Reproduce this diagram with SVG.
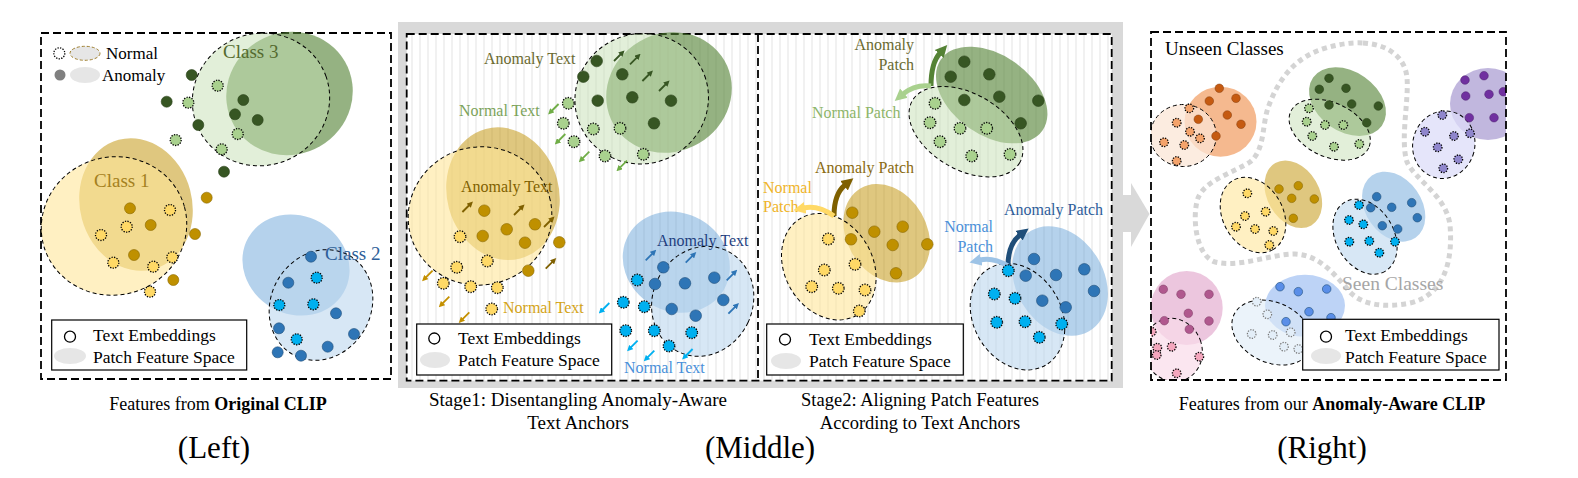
<svg xmlns="http://www.w3.org/2000/svg" width="1578" height="478" viewBox="0 0 1578 478">
<defs>
<style>
.t{font-family:"Liberation Serif","Times New Roman",serif}
.bx{fill:none;stroke:#000;stroke-width:1.8;stroke-dasharray:8 4}
.dn{stroke:#000;stroke-width:1;stroke-dasharray:4 3}
.dt{stroke:#000;stroke-width:1.3;stroke-dasharray:1.3 1.3}
.lg{fill:#fff;stroke:#000;stroke-width:1.2}
.le{fill:#e6e6e6}
.ga{fill:#548235;opacity:.62}.gn{fill:#c5e0b4;fill-opacity:.5}
.ya{fill:#bf9000;opacity:.5}.yn{fill:#ffe699;fill-opacity:.6}
.ba{fill:#5b9bd5;opacity:.45}.bn{fill:#bdd7ee;fill-opacity:.6}
.gs{fill:#375623;stroke:#2a421a;stroke-width:.6}.gd{fill:#a9d18e}
.ys{fill:#bf9000;stroke:#8a6800;stroke-width:.6}.yd{fill:#ffd966}
.bs{fill:#2e75b6;stroke:#1f4e79;stroke-width:.6}.bd{fill:#00b0f0}
.os{fill:#c55a11;stroke:#843c0c;stroke-width:.5}.od{fill:#f4a36b}
.ps{fill:#7030a0;stroke:#4b1f6b;stroke-width:.5}.pd{fill:#8f86cc}
.ks{fill:#b0588e;stroke:#7a3b62;stroke-width:.5}.kd{fill:#f4a6bd}
.ls{fill:#5a8ee8;stroke:#1f4e79;stroke-width:.6}.ld{fill:#e3eef8}
.ar{fill:none;stroke-width:1.8}
.a1{stroke:#375623;marker-end:url(#m1)}.a2{stroke:#70ad47;marker-end:url(#m2)}
.a3{stroke:#7f6000;marker-end:url(#m3)}.a4{stroke:#c49000;marker-end:url(#m4)}
.a5{stroke:#2e75b6;marker-end:url(#m5)}.a6{stroke:#00b0f0;marker-end:url(#m6)}
.ca{fill:none;stroke-width:5}
</style>
<pattern id="stripe" width="8" height="10" patternUnits="userSpaceOnUse"><rect width="8" height="10" fill="#fff"/><line x1="4" y1="0" x2="4" y2="10" stroke="#e4e4e4" stroke-width="1"/></pattern>
<marker id="m1" viewBox="0 0 6 6" refX="1" refY="3" markerWidth="6" markerHeight="6" markerUnits="userSpaceOnUse" orient="auto"><path d="M0,0L6,3L0,6z" fill="#375623"/></marker>
<marker id="m2" viewBox="0 0 6 6" refX="1" refY="3" markerWidth="6" markerHeight="6" markerUnits="userSpaceOnUse" orient="auto"><path d="M0,0L6,3L0,6z" fill="#70ad47"/></marker>
<marker id="m3" viewBox="0 0 6 6" refX="1" refY="3" markerWidth="6" markerHeight="6" markerUnits="userSpaceOnUse" orient="auto"><path d="M0,0L6,3L0,6z" fill="#7f6000"/></marker>
<marker id="m4" viewBox="0 0 6 6" refX="1" refY="3" markerWidth="6" markerHeight="6" markerUnits="userSpaceOnUse" orient="auto"><path d="M0,0L6,3L0,6z" fill="#c49000"/></marker>
<marker id="m5" viewBox="0 0 6 6" refX="1" refY="3" markerWidth="6" markerHeight="6" markerUnits="userSpaceOnUse" orient="auto"><path d="M0,0L6,3L0,6z" fill="#2e75b6"/></marker>
<marker id="m6" viewBox="0 0 6 6" refX="1" refY="3" markerWidth="6" markerHeight="6" markerUnits="userSpaceOnUse" orient="auto"><path d="M0,0L6,3L0,6z" fill="#00b0f0"/></marker>
<marker id="c1" viewBox="0 0 10 10" refX="1" refY="5" markerWidth="12" markerHeight="13" markerUnits="userSpaceOnUse" orient="auto"><path d="M0,0L10,5L0,10z" fill="#548235"/></marker>
<marker id="c2" viewBox="0 0 10 10" refX="1" refY="5" markerWidth="12" markerHeight="13" markerUnits="userSpaceOnUse" orient="auto"><path d="M0,0L10,5L0,10z" fill="#a9d18e"/></marker>
<marker id="c3" viewBox="0 0 10 10" refX="1" refY="5" markerWidth="12" markerHeight="13" markerUnits="userSpaceOnUse" orient="auto"><path d="M0,0L10,5L0,10z" fill="#7f6000"/></marker>
<marker id="c4" viewBox="0 0 10 10" refX="1" refY="5" markerWidth="12" markerHeight="13" markerUnits="userSpaceOnUse" orient="auto"><path d="M0,0L10,5L0,10z" fill="#ffd966"/></marker>
<marker id="c5" viewBox="0 0 10 10" refX="1" refY="5" markerWidth="12" markerHeight="13" markerUnits="userSpaceOnUse" orient="auto"><path d="M0,0L10,5L0,10z" fill="#1f4e79"/></marker>
<marker id="c6" viewBox="0 0 10 10" refX="1" refY="5" markerWidth="12" markerHeight="13" markerUnits="userSpaceOnUse" orient="auto"><path d="M0,0L10,5L0,10z" fill="#9dc3e6"/></marker>
<clipPath id="rclip"><rect x="1151" y="32" width="355" height="348"/></clipPath>
</defs>
<rect width="1578" height="478" fill="#fff"/>

<!-- LEFT PANEL -->
<g id="left-panel">
<rect class="bx" x="41" y="33" width="350" height="346"/>
<g id="left-legend-top">
<circle class="dt" cx="59.3" cy="53.3" r="5.5" fill="#fff"/>
<ellipse cx="85" cy="53.3" rx="15" ry="7" fill="#e6e6e6" stroke="#a08030" stroke-width="1" stroke-dasharray="3 2"/>
<text class="t" x="106" y="59" font-size="17">Normal</text>
<circle cx="60" cy="75" r="5.5" fill="#808080"/>
<ellipse class="le" cx="85" cy="75" rx="15" ry="8"/>
<text class="t" x="102" y="81" font-size="17">Anomaly</text>
</g>
<g id="left-class3">
<ellipse class="ga" cx="289.5" cy="93.5" rx="64" ry="61" transform="rotate(-30 289.5 93.5)"/>
<ellipse class="gn dn" cx="261" cy="99.5" rx="69" ry="66" transform="rotate(-20 261 99.5)"/>
<text class="t" x="223" y="58" font-size="19" fill="#556b2f">Class 3</text>
<g class="gs"><circle cx="191.7" cy="75" r="5.5"/><circle cx="166.7" cy="101.7" r="5.5"/><circle cx="243.3" cy="100" r="5.5"/><circle cx="235" cy="114.3" r="5.5"/><circle cx="257.7" cy="120" r="5.5"/><circle cx="198.3" cy="125" r="5.5"/><circle cx="224" cy="171.7" r="5.5"/></g>
<g class="gd dt"><circle cx="217.7" cy="85.7" r="5.5"/><circle cx="188.3" cy="102.7" r="5.5"/><circle cx="237.7" cy="134" r="5.5"/><circle cx="175.7" cy="140" r="5.5"/><circle cx="221.7" cy="149.3" r="5.5"/></g>
</g>
<g id="left-class1">
<ellipse class="ya" cx="136" cy="204.5" rx="56" ry="67" transform="rotate(-15 136 204.5)"/>
<ellipse class="yn dn" cx="114" cy="226" rx="73" ry="69" transform="rotate(-15 114 226)"/>
<text class="t" x="94" y="187" font-size="19" fill="#a5811e">Class 1</text>
<g class="ys"><circle cx="206.7" cy="197.7" r="5.5"/><circle cx="130" cy="208.3" r="5.5"/><circle cx="150.7" cy="225" r="5.5"/><circle cx="195" cy="234" r="5.5"/><circle cx="134" cy="255" r="5.5"/><circle cx="173.3" cy="280" r="5.5"/></g>
<g class="yd dt"><circle cx="170" cy="210" r="5.5"/><circle cx="126.7" cy="226.7" r="5.5"/><circle cx="101" cy="235" r="5.5"/><circle cx="172.3" cy="257.3" r="5.5"/><circle cx="113.3" cy="262.7" r="5.5"/><circle cx="153.3" cy="266.7" r="5.5"/><circle cx="150" cy="291.7" r="5.5"/></g>
</g>
<g id="left-class2">
<ellipse class="ba" cx="296" cy="265" rx="55" ry="49" transform="rotate(30 296 265)"/>
<ellipse class="bn dn" cx="321" cy="305" rx="50" ry="57" transform="rotate(30 321 305)"/>
<text class="t" x="325" y="260" font-size="19" fill="#2e6099">Class 2</text>
<g class="bs"><circle cx="311" cy="256.7" r="5.5"/><circle cx="288.3" cy="282.7" r="5.5"/><circle cx="336" cy="313.3" r="5.5"/><circle cx="279" cy="328.3" r="5.5"/><circle cx="354" cy="334" r="5.5"/><circle cx="327.7" cy="346.7" r="5.5"/><circle cx="277.7" cy="352.3" r="5.5"/><circle cx="301" cy="355.7" r="5.5"/></g>
<g class="bd dt"><circle cx="316.7" cy="277.7" r="5.5"/><circle cx="279.3" cy="305" r="5.5"/><circle cx="313.3" cy="304.3" r="5.5"/><circle cx="296.7" cy="339.3" r="5.5"/></g>
</g>
<g id="left-legend">
<rect class="lg" x="51.7" y="320" width="195" height="50"/>
<circle cx="70" cy="336.7" r="5.5" fill="#fff" stroke="#000" stroke-width="1.3"/>
<text class="t" x="93" y="341" font-size="17.5">Text Embeddings</text>
<ellipse class="le" cx="70" cy="356" rx="16" ry="8"/>
<text class="t" x="93" y="363" font-size="17.5">Patch Feature Space</text>
</g>
</g>

<!-- MIDDLE PANEL -->
<g id="middle-panel">
<rect x="398" y="22" width="725" height="366" fill="#d9d9d9"/>
<rect x="406.7" y="34" width="705" height="346.7" fill="url(#stripe)"/>
<rect class="bx" x="406.7" y="34" width="705" height="346.7"/>
<line x1="758" y1="34" x2="758" y2="380.7" stroke="#000" stroke-width="1.8" stroke-dasharray="8 4"/>
</g>

<g id="stage1">
<g id="s1-green">
<ellipse class="ga" cx="669" cy="92.5" rx="64" ry="59" transform="rotate(-30 669 92.5)"/>
<ellipse class="gn dn" cx="641.7" cy="98.7" rx="67" ry="65" transform="rotate(-20 641.7 98.7)"/>
<text class="t" x="484" y="64" font-size="16" fill="#6a6a30">Anomaly Text</text>
<text class="t" x="459" y="116" font-size="16" fill="#7ca35a">Normal Text</text>
<g class="gs"><circle cx="596.7" cy="61" r="5.8"/><circle cx="583.3" cy="76.7" r="5.8"/><circle cx="622.3" cy="74.3" r="5.8"/><circle cx="597.7" cy="100.7" r="5.8"/><circle cx="632.3" cy="97.3" r="5.8"/><circle cx="671" cy="100.7" r="5.8"/><circle cx="654" cy="123.3" r="5.8"/></g>
<g class="gd dt"><circle cx="568.3" cy="103.3" r="5.8"/><circle cx="563.3" cy="123.3" r="5.8"/><circle cx="593.3" cy="129" r="5.8"/><circle cx="620" cy="128.3" r="5.8"/><circle cx="574" cy="141.7" r="5.8"/><circle cx="605" cy="156" r="5.8"/><circle cx="643.3" cy="154.3" r="5.8"/></g>
</g>
<g id="s1-yellow">
<ellipse class="ya" cx="503" cy="193.7" rx="56" ry="67" transform="rotate(-15 503 193.7)"/>
<ellipse class="yn dn" cx="480" cy="216" rx="72" ry="69" transform="rotate(-15 480 216)"/>
<text class="t" x="461" y="192" font-size="16" fill="#7f6000">Anomaly Text</text>
<text class="t" x="503" y="313" font-size="16" fill="#d4a316">Normal Text</text>
<g class="ys"><circle cx="484.3" cy="210.7" r="5.8"/><circle cx="482.7" cy="236" r="5.8"/><circle cx="506.7" cy="229.3" r="5.8"/><circle cx="535" cy="224.3" r="5.8"/><circle cx="525" cy="242.7" r="5.8"/><circle cx="559.3" cy="242.3" r="5.8"/><circle cx="528.3" cy="270.7" r="5.8"/></g>
<g class="yd dt"><circle cx="460" cy="236.7" r="5.8"/><circle cx="487.3" cy="261" r="5.8"/><circle cx="456.7" cy="267.3" r="5.8"/><circle cx="443.3" cy="283.3" r="5.8"/><circle cx="470.7" cy="286.7" r="5.8"/><circle cx="497.3" cy="287.7" r="5.8"/><circle cx="491.7" cy="309" r="5.8"/></g>
</g>
<g id="s1-blue">
<ellipse class="ba" cx="676.3" cy="262.2" rx="55" ry="49" transform="rotate(30 676.3 262.2)"/>
<ellipse class="bn dn" cx="702.7" cy="301.3" rx="50" ry="56" transform="rotate(25 702.7 301.3)"/>
<text class="t" x="657" y="246" font-size="16" fill="#1f3f7f">Anomaly Text</text>
<text class="t" x="624" y="373" font-size="16" fill="#4a90d9">Normal Text</text>
<g class="bs"><circle cx="663.3" cy="267.3" r="5.8"/><circle cx="655" cy="284" r="5.8"/><circle cx="685" cy="283.3" r="5.8"/><circle cx="714.3" cy="277.7" r="5.8"/><circle cx="723.3" cy="300" r="5.8"/><circle cx="671.7" cy="309" r="5.8"/><circle cx="695.7" cy="315.7" r="5.8"/></g>
<g class="bd dt"><circle cx="637.3" cy="280" r="5.8"/><circle cx="623.3" cy="302.3" r="5.8"/><circle cx="644.3" cy="306.7" r="5.8"/><circle cx="625.7" cy="330.7" r="5.8"/><circle cx="654.3" cy="330.7" r="5.8"/><circle cx="691.7" cy="332.7" r="5.8"/><circle cx="669" cy="346" r="5.8"/></g>
</g>
<g id="s1-legend">
<rect class="lg" x="416.7" y="324" width="195" height="51"/>
<circle cx="434.3" cy="338.5" r="5.5" fill="#fff" stroke="#000" stroke-width="1.3"/>
<text class="t" x="458" y="344" font-size="17.5">Text Embeddings</text>
<ellipse class="le" cx="435" cy="360" rx="15" ry="8"/>
<text class="t" x="458" y="366" font-size="17.5">Patch Feature Space</text>
</g>
</g>

<g id="stage2">
<g id="s2-green">
<ellipse class="ga" cx="991.7" cy="95" rx="62" ry="40" transform="rotate(35 991.7 95)"/>
<ellipse class="gn dn" cx="966" cy="131.7" rx="62" ry="38" transform="rotate(30 966 131.7)"/>
<text class="t" x="914" y="50" font-size="16" fill="#6a6a30" text-anchor="end">Anomaly</text>
<text class="t" x="914" y="70" font-size="16" fill="#6a6a30" text-anchor="end">Patch</text>
<text class="t" x="812" y="118" font-size="16" fill="#8db56a">Normal Patch</text>
<g class="gs"><circle cx="964.3" cy="61.7" r="5.8"/><circle cx="950.7" cy="76.7" r="5.8"/><circle cx="989.3" cy="74.3" r="5.8"/><circle cx="964.3" cy="100" r="5.8"/><circle cx="999.3" cy="96.7" r="5.8"/><circle cx="1038.3" cy="100.7" r="5.8"/><circle cx="1020.7" cy="123.3" r="5.8"/></g>
<g class="gd dt"><circle cx="935" cy="103.3" r="5.8"/><circle cx="930" cy="122.7" r="5.8"/><circle cx="960" cy="128.3" r="5.8"/><circle cx="986.7" cy="128.3" r="5.8"/><circle cx="940" cy="141.7" r="5.8"/><circle cx="971.7" cy="156" r="5.8"/><circle cx="1010" cy="154.3" r="5.8"/></g>
</g>
<g id="s2-yellow">
<ellipse class="ya" cx="886.7" cy="233.3" rx="52" ry="40" transform="rotate(60 886.7 233.3)"/>
<ellipse class="yn dn" cx="828.8" cy="266.7" rx="56" ry="44" transform="rotate(60 828.8 266.7)"/>
<text class="t" x="815" y="173" font-size="16" fill="#8a6a10">Anomaly Patch</text>
<text class="t" x="763" y="193" font-size="16" fill="#f0b429">Normal</text>
<text class="t" x="763" y="212" font-size="16" fill="#f0b429">Patch</text>
<g class="ys"><circle cx="852.3" cy="212.7" r="5.8"/><circle cx="851" cy="239.3" r="5.8"/><circle cx="874.3" cy="231.7" r="5.8"/><circle cx="902.7" cy="226.7" r="5.8"/><circle cx="892.7" cy="245" r="5.8"/><circle cx="927.3" cy="244.3" r="5.8"/><circle cx="896" cy="273.3" r="5.8"/></g>
<g class="yd dt"><circle cx="828.3" cy="239" r="5.8"/><circle cx="855" cy="264.3" r="5.8"/><circle cx="824.3" cy="270" r="5.8"/><circle cx="811.7" cy="286.7" r="5.8"/><circle cx="838.3" cy="288.3" r="5.8"/><circle cx="865" cy="290" r="5.8"/><circle cx="859.3" cy="311" r="5.8"/></g>
</g>
<g id="s2-blue">
<ellipse class="ba" cx="1060" cy="281" rx="58" ry="44" transform="rotate(60 1060 281)"/>
<ellipse class="bn dn" cx="1017.5" cy="316.7" rx="56" ry="44" transform="rotate(60 1017.5 316.7)"/>
<text class="t" x="1004" y="215" font-size="16" fill="#2e5d9a">Anomaly Patch</text>
<text class="t" x="993" y="232" font-size="16" fill="#4a90d9" text-anchor="end">Normal</text>
<text class="t" x="993" y="252" font-size="16" fill="#4a90d9" text-anchor="end">Patch</text>
<g class="bs"><circle cx="1034" cy="259" r="5.8"/><circle cx="1025.7" cy="275.7" r="5.8"/><circle cx="1056" cy="275" r="5.8"/><circle cx="1084.3" cy="269.3" r="5.8"/><circle cx="1094" cy="291" r="5.8"/><circle cx="1042.3" cy="300.7" r="5.8"/><circle cx="1065.7" cy="307.3" r="5.8"/></g>
<g class="bd dt"><circle cx="994.3" cy="294" r="5.8"/><circle cx="1015" cy="298.3" r="5.8"/><circle cx="996.7" cy="322.3" r="5.8"/><circle cx="1025" cy="321.7" r="5.8"/><circle cx="1061.7" cy="324" r="5.8"/><circle cx="1039.3" cy="337.3" r="5.8"/></g>
</g>
<g id="s2-legend">
<rect class="lg" x="766.7" y="324" width="196.6" height="51"/>
<circle cx="785" cy="339.5" r="5.5" fill="#fff" stroke="#000" stroke-width="1.3"/>
<text class="t" x="809" y="345" font-size="17.5">Text Embeddings</text>
<ellipse class="le" cx="786" cy="361" rx="15" ry="8"/>
<text class="t" x="809" y="367" font-size="17.5">Patch Feature Space</text>
</g>
</g>

<!-- connectors (arrows) -->
<g id="connectors">
<g class="ar">
<path class="a1" d="M614,61l7,-7"/><path class="a1" d="M630,64.3l7,-7"/><path class="a1" d="M642.4,81l7,-7"/><path class="a1" d="M659,91l7,-7"/>
<path class="a2" d="M558.6,104l-7,7"/><path class="a2" d="M565.3,134l-7,7"/><path class="a2" d="M589.3,151.7l-7,7"/><path class="a2" d="M627,160.7l-7,7"/>
<path class="a3" d="M462.4,212l7,-7"/><path class="a3" d="M514,215l7,-7"/><path class="a3" d="M544,227l7,-7"/><path class="a3" d="M545.7,268.6l7,-7"/>
<path class="a4" d="M432.6,270.7l-7,7"/><path class="a4" d="M449.3,296.7l-7,7"/><path class="a4" d="M469.3,312.4l-7,7"/>
<path class="a5" d="M645.7,260.3l7,-7"/><path class="a5" d="M685.7,262.6l7,-7"/><path class="a5" d="M726.7,280.3l7,-7"/><path class="a5" d="M728.4,313.6l7,-7"/>
<path class="a6" d="M609.3,303l-7,7"/><path class="a6" d="M637.6,340.7l-7,7"/><path class="a6" d="M654.3,350.7l-7,7"/><path class="a6" d="M692.6,349l-7,7"/>
</g>
<g class="ca">
<path d="M931,86Q931,63 940,53" stroke="#548235" marker-end="url(#c1)"/>
<path d="M931,86Q915,84 903,94" stroke="#a9d18e" marker-end="url(#c2)"/>
<path d="M834,216Q834,194 845,185" stroke="#7f6000" marker-end="url(#c3)"/>
<path d="M834,216Q818,205 804,208" stroke="#ffd966" marker-end="url(#c4)"/>
<path d="M1008,266Q1008,244 1020,235" stroke="#1f4e79" marker-end="url(#c5)"/>
<path d="M1008,266Q993,257 980,260" stroke="#9dc3e6" marker-end="url(#c6)"/>
</g>
</g>
<circle class="bd dt" cx="1008.3" cy="270.7" r="5.8"/>

<!-- transition arrow -->
<g id="transition-arrow" fill="#d9d9d9">
<rect x="1122" y="195" width="10" height="37"/>
<polygon points="1131,183 1149.5,214 1131,247"/>
</g>

<!-- RIGHT PANEL -->
<g id="right-panel">
<g clip-path="url(#rclip)">
<path d="M1363,43C1385,44 1405,55 1407,78C1409,100 1400,140 1407,162C1415,180 1446,195 1450,225C1453,260 1445,295 1410,303C1385,308 1362,305 1350,292C1335,275 1320,255 1295,254C1270,254 1240,268 1215,262C1195,255 1192,215 1198,198C1205,180 1235,172 1250,162C1265,150 1262,125 1268,108C1276,85 1290,62 1317,51C1330,46 1348,42 1363,43Z" fill="none" stroke="#d4d4d4" stroke-width="5" stroke-dasharray="5 4"/>
<g id="r-orange">
<ellipse cx="1220.5" cy="121.7" rx="36" ry="35" fill="#f4b183" opacity=".9"/>
<ellipse class="dn" cx="1183.3" cy="135.5" rx="33" ry="31" fill="#fbe5d6" fill-opacity=".75"/>
<g class="os"><circle cx="1219.3" cy="88.3" r="4.3"/><circle cx="1209.3" cy="101" r="4.3"/><circle cx="1236" cy="98.3" r="4.3"/><circle cx="1198.3" cy="119.3" r="4.3"/><circle cx="1227.3" cy="115" r="4.3"/><circle cx="1241" cy="124.3" r="4.3"/><circle cx="1216" cy="136" r="4.3"/></g>
<g class="od dt"><circle cx="1189.3" cy="108.3" r="4.3"/><circle cx="1176.7" cy="122.7" r="4.3"/><circle cx="1190" cy="131.7" r="4.3"/><circle cx="1200" cy="138.3" r="4.3"/><circle cx="1164" cy="142.3" r="4.3"/><circle cx="1184.3" cy="145" r="4.3"/><circle cx="1176.7" cy="161" r="4.3"/></g>
</g>
<g id="r-green">
<ellipse class="ga" cx="1347.5" cy="101.7" rx="42" ry="30" transform="rotate(35 1347.5 101.7)"/>
<ellipse class="gn dn" cx="1329.7" cy="129.7" rx="43" ry="27" transform="rotate(25 1329.7 129.7)"/>
<g class="gs"><circle cx="1329" cy="78.3" r="4.3"/><circle cx="1319.3" cy="89.3" r="4.3"/><circle cx="1346" cy="88.3" r="4.3"/><circle cx="1329" cy="105" r="4.3"/><circle cx="1351.7" cy="104" r="4.3"/><circle cx="1378.3" cy="106" r="4.3"/><circle cx="1366.7" cy="122.7" r="4.3"/></g>
<g class="gd dt"><circle cx="1309" cy="108.3" r="4.3"/><circle cx="1306.7" cy="121.7" r="4.3"/><circle cx="1325" cy="125" r="4.3"/><circle cx="1343.3" cy="125" r="4.3"/><circle cx="1312.3" cy="136" r="4.3"/><circle cx="1334" cy="146.7" r="4.3"/><circle cx="1359.3" cy="144" r="4.3"/></g>
</g>
<g id="r-purple">
<ellipse cx="1488" cy="104" rx="38" ry="36" fill="#8e7cc3" opacity=".55"/>
<ellipse class="dn" cx="1443.8" cy="144.7" rx="31" ry="34" fill="#dcdcf8" fill-opacity=".75" transform="rotate(15 1443.8 144.7)"/>
<g class="ps"><circle cx="1465" cy="80" r="4.3"/><circle cx="1484" cy="75.7" r="4.3"/><circle cx="1465.7" cy="96" r="4.3"/><circle cx="1489" cy="94.3" r="4.3"/><circle cx="1503.3" cy="91.7" r="4.3"/><circle cx="1469.3" cy="117.7" r="4.3"/><circle cx="1494" cy="117.7" r="4.3"/></g>
<g class="pd dt"><circle cx="1442.3" cy="115" r="4.3"/><circle cx="1425" cy="131.7" r="4.3"/><circle cx="1454" cy="136" r="4.3"/><circle cx="1470" cy="133.3" r="4.3"/><circle cx="1437.7" cy="147.3" r="4.3"/><circle cx="1458.3" cy="159.3" r="4.3"/><circle cx="1443.3" cy="168.3" r="4.3"/></g>
</g>
<g id="r-yellow">
<ellipse class="ya" cx="1293.3" cy="194.2" rx="36" ry="26" transform="rotate(60 1293.3 194.2)"/>
<ellipse class="yn dn" cx="1253" cy="215" rx="40" ry="30" transform="rotate(60 1253 215)"/>
<g class="ys"><circle cx="1279" cy="189" r="4.3"/><circle cx="1298.3" cy="185.7" r="4.3"/><circle cx="1291.7" cy="198.3" r="4.3"/><circle cx="1314.3" cy="199" r="4.3"/><circle cx="1293.3" cy="218.3" r="4.3"/></g>
<g class="yd dt"><circle cx="1247.3" cy="193.3" r="4.3"/><circle cx="1265.7" cy="211.7" r="4.3"/><circle cx="1245" cy="216" r="4.3"/><circle cx="1236" cy="226.7" r="4.3"/><circle cx="1255" cy="229" r="4.3"/><circle cx="1273.3" cy="231" r="4.3"/><circle cx="1269.3" cy="245" r="4.3"/></g>
</g>
<g id="r-blue">
<ellipse class="ba" cx="1393.7" cy="206.7" rx="38" ry="28" transform="rotate(55 1393.7 206.7)"/>
<ellipse class="bn dn" cx="1365" cy="236.7" rx="40" ry="29" transform="rotate(60 1365 236.7)"/>
<g class="bs"><circle cx="1376.7" cy="196.7" r="4.3"/><circle cx="1370.7" cy="207.7" r="4.3"/><circle cx="1391.7" cy="207.3" r="4.3"/><circle cx="1411.7" cy="202.7" r="4.3"/><circle cx="1417.3" cy="217.7" r="4.3"/><circle cx="1382.3" cy="225.7" r="4.3"/><circle cx="1397.7" cy="229" r="4.3"/></g>
<g class="bd dt"><circle cx="1359" cy="205" r="4.3"/><circle cx="1349" cy="220" r="4.3"/><circle cx="1363.3" cy="224.3" r="4.3"/><circle cx="1349.3" cy="241.7" r="4.3"/><circle cx="1369.3" cy="241" r="4.3"/><circle cx="1395" cy="241.7" r="4.3"/><circle cx="1379.3" cy="252.7" r="4.3"/></g>
</g>
<g id="r-pink">
<ellipse cx="1186.7" cy="308" rx="36" ry="37" fill="#d580b5" opacity=".45"/>
<ellipse class="dn" cx="1173" cy="350" rx="29" ry="32" fill="#f9dce9" fill-opacity=".7" transform="rotate(-20 1173 350)"/>
<g class="ks"><circle cx="1163.3" cy="289.3" r="4.3"/><circle cx="1181" cy="294.3" r="4.3"/><circle cx="1209" cy="294.3" r="4.3"/><circle cx="1188.3" cy="313.3" r="4.3"/><circle cx="1164.3" cy="320.7" r="4.3"/><circle cx="1209" cy="321" r="4.3"/><circle cx="1189.3" cy="329.3" r="4.3"/></g>
<g class="kd dt"><circle cx="1157.3" cy="347.7" r="4.3"/><circle cx="1171.7" cy="346.7" r="4.3"/><circle cx="1156.7" cy="355" r="4.3"/><circle cx="1199.3" cy="356.7" r="4.3"/><circle cx="1176.7" cy="373.3" r="4.3"/><circle cx="1151.7" cy="331.7" r="4.3"/></g>
</g>
<g id="r-lightblue">
<ellipse cx="1305" cy="305.8" rx="40" ry="31" fill="#6d9eeb" opacity=".45"/>
<ellipse class="dn" cx="1272" cy="332.5" rx="42" ry="30" fill="#deebf7" fill-opacity=".6" transform="rotate(25 1272 332.5)"/>
<g class="ls"><circle cx="1280" cy="286.7" r="4.3"/><circle cx="1298.3" cy="291.7" r="4.3"/><circle cx="1326.7" cy="289" r="4.3"/><circle cx="1309" cy="311.7" r="4.3"/><circle cx="1286" cy="321.7" r="4.3"/><circle cx="1331" cy="317.7" r="4.3"/></g>
<g class="ld" stroke="#777" stroke-width="1.2" stroke-dasharray="1.3 1.3"><circle cx="1256.7" cy="301.7" r="4.3"/><circle cx="1267.3" cy="314.3" r="4.3"/><circle cx="1251.7" cy="334" r="4.3"/><circle cx="1272.7" cy="335" r="4.3"/><circle cx="1290.7" cy="332.3" r="4.3"/><circle cx="1284" cy="346.7" r="4.3"/><circle cx="1298.3" cy="349" r="4.3"/></g>
</g>
</g>
<rect class="bx" x="1151" y="32" width="355" height="348"/>
<text class="t" x="1165" y="55" font-size="19">Unseen Classes</text>
<text class="t" x="1342" y="290" font-size="19.5" fill="#a6a6a6">Seen Classes</text>
<g id="right-legend">
<rect class="lg" x="1302.7" y="319.3" width="196.3" height="50.7"/>
<circle cx="1326" cy="336.7" r="5.5" fill="#fff" stroke="#000" stroke-width="1.3"/>
<text class="t" x="1345" y="341" font-size="17.5">Text Embeddings</text>
<ellipse class="le" cx="1326" cy="356" rx="15" ry="8"/>
<text class="t" x="1345" y="363" font-size="17.5">Patch Feature Space</text>
</g>
</g>

<!-- CAPTIONS -->
<g id="captions" class="t" text-anchor="middle">
<text x="218" y="410" font-size="18">Features from <tspan font-weight="bold">Original CLIP</tspan></text>
<text x="214" y="458" font-size="31">(Left)</text>
<text x="578" y="406" font-size="19">Stage1: Disentangling Anomaly-Aware</text>
<text x="578" y="429" font-size="19">Text Anchors</text>
<text x="920" y="406" font-size="18.5">Stage2: Aligning Patch Features</text>
<text x="920" y="429" font-size="18.5">According to Text Anchors</text>
<text x="760" y="458" font-size="31">(Middle)</text>
<text x="1332" y="410" font-size="18">Features from our <tspan font-weight="bold">Anomaly-Aware CLIP</tspan></text>
<text x="1322" y="458" font-size="31">(Right)</text>
</g>
</svg>
